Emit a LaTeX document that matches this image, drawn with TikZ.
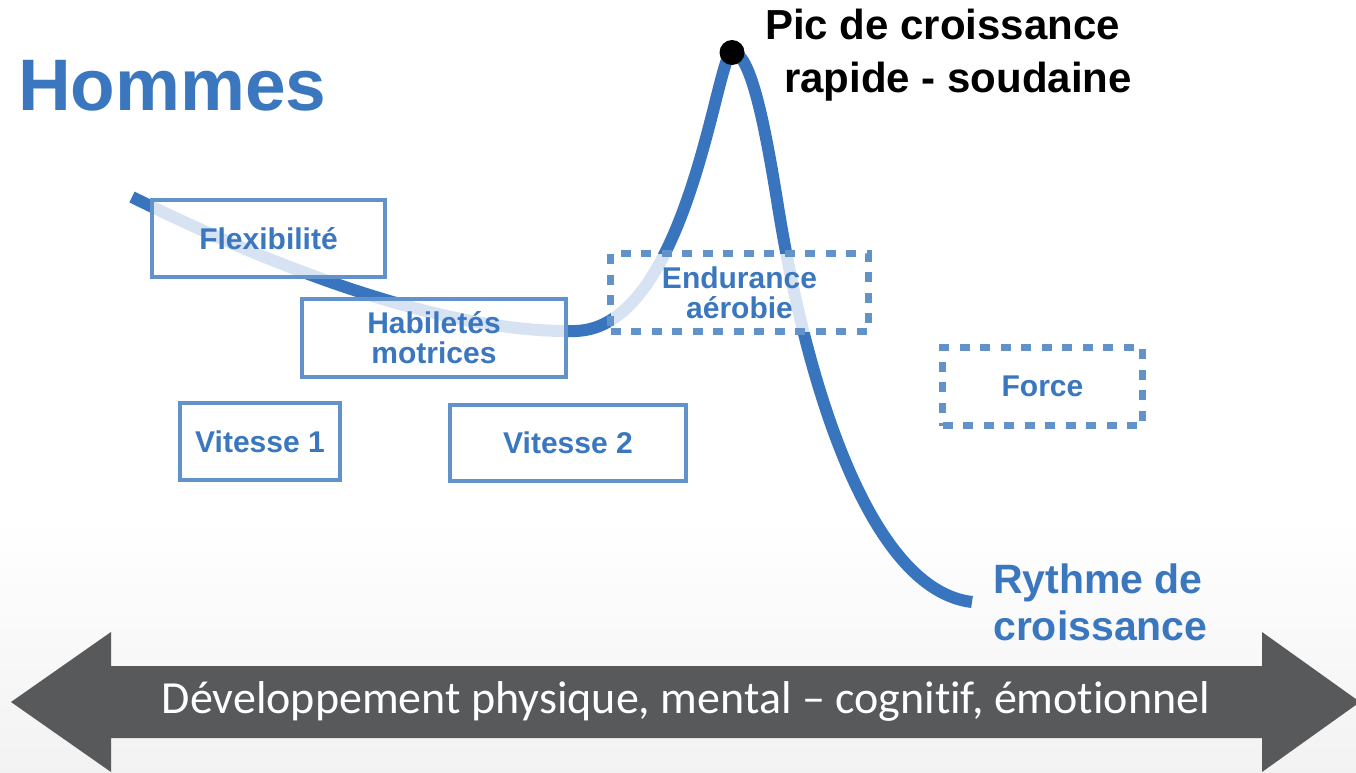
\documentclass[tikz,border=0pt]{standalone}
\usepackage{fontspec}
\setmainfont{Liberation Sans}
\newfontfamily\carlito[Ligatures=NoCommon]{Carlito}
\definecolor{curveblue}{RGB}{56,117,190}
\definecolor{boxblue}{RGB}{97,146,202}
\definecolor{textblue}{RGB}{58,119,191}
\definecolor{arrowgray}{RGB}{88,89,91}
\begin{document}
\begin{tikzpicture}[x=1bp,y=-1bp,
  boxlabel/.style={font=\bfseries\fontsize{30bp}{30bp}\selectfont, text=textblue, align=center},
  solidbox/.style={boxlabel, draw=boxblue, line width=4bp, fill=white, fill opacity=0.8, text opacity=1, inner sep=0pt},
  dotbox/.style={solidbox, line width=6.5bp, dash pattern=on 10bp off 10.5bp},
  bigblue/.style={font=\bfseries\fontsize{41bp}{47bp}\selectfont, text=textblue, inner sep=0pt},
  bigblack/.style={font=\bfseries\fontsize{42bp}{48bp}\selectfont, text=black, inner sep=0pt},
  growth/.style={draw=curveblue, line width=12bp}
]
\useasboundingbox (0,0) rectangle (1356,772);
\clip (0,0) rectangle (1356,772);
% background
\fill[white] (0,0) rectangle (1356,772);
\shade[top color=white, bottom color=black!5] (0,520) rectangle (1356,772);
% double arrow
\fill[arrowgray] (11,702) -- (111,632) -- (111,666) -- (1262,666) -- (1262,632) -- (1360,702)
  -- (1262,772) -- (1262,738) -- (111,738) -- (111,772) -- cycle;
\node[font=\carlito\fontsize{46bp}{50bp}\selectfont, text=white, anchor=base, inner sep=0pt] (axis) at (686,713)
  {Développement physique, mental – cognitif, émotionnel};
% growth curve
\draw[growth] (132,197) .. controls (320,290) and (470,333) .. (575,331)
  .. controls (688,329) and (717,52) .. (732,52)
  .. controls (750,52) and (764,120) .. (777,200)
  .. controls (806,385) and (870,590) .. (972,602);
% boxes
\node[solidbox, minimum width=233bp, minimum height=77bp] (flex) at (268.5,238.5) {Flexibilité};
\node[solidbox, minimum width=264bp, minimum height=78bp] (hab) at (434,338) {Habiletés\\motrices};
\node[solidbox, minimum width=160bp, minimum height=77bp] (v1) at (260,441.5) {Vitesse 1};
\node[solidbox, minimum width=236bp, minimum height=76bp] (v2) at (568,443) {Vitesse 2};
\node[dotbox, minimum width=258bp, minimum height=78bp] (endu) at (739.5,292.5) {Endurance\\aérobie};
\node[dotbox, minimum width=200bp, minimum height=78bp] (force) at (1042.5,386.5) {Force};
% peak
\fill[black] (732,52.5) circle (12.5);
\node[bigblack, anchor=base west] (pic1) at (765,40) {Pic de croissance};
\node[bigblack, anchor=base west] (pic2) at (784,92) {rapide - soudaine};
% titles
\node[font=\bfseries\fontsize{73bp}{80bp}\selectfont, text=textblue, anchor=base west, inner sep=0pt] (title) at (18,110) {Hommes};
\node[bigblue, anchor=base west] (ry1) at (993,593) {Rythme de};
\node[bigblue, anchor=base west] (ry2) at (993,640) {croissance};
\end{tikzpicture}
\end{document}
